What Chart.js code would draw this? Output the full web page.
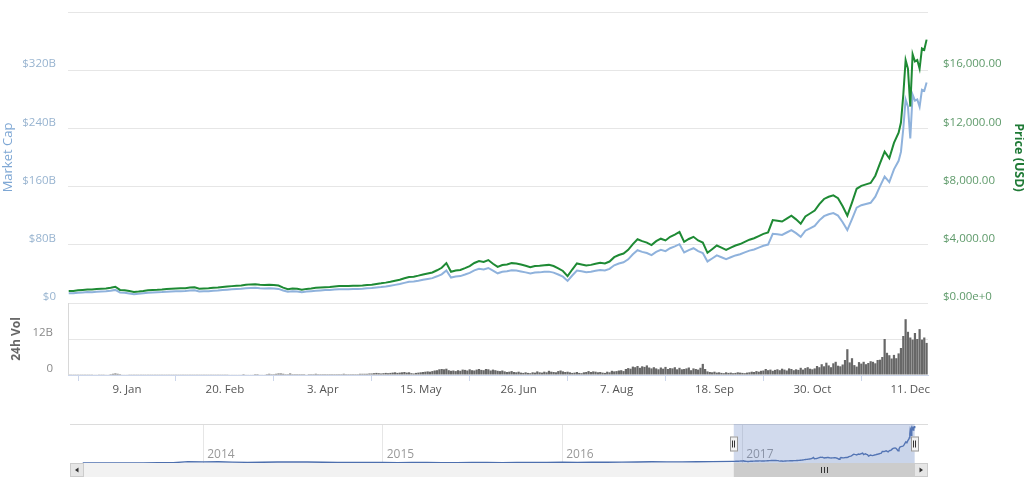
<!DOCTYPE html>
<html>
<head>
<meta charset="utf-8">
<script src="https://cdn.jsdelivr.net/npm/chart.js@4.4.0/dist/chart.umd.min.js"></script>
<style>
    html, body { margin: 0; background: #fff; }
    #wrap { position: relative; width: 1024px; height: 484px; overflow: hidden; }
    #main { position: absolute; left: 0; top: 0; }
    #nav { position: absolute; left: 0; top: 405px; }
</style>
</head>
<body>
<div id="wrap">
    <canvas id="main" width="1024" height="405"></canvas>
    <canvas id="nav" width="1024" height="79"></canvas>
</div>
<script>
// days are counted from 15 Dec 2016
// lines: every 2 days up to day 354, then daily to the end
const lineDays = [];
for (let d = 0; d <= 354; d += 2) lineDays.push(d);
for (let d = 356; d <= 368; d++) lineDays.push(d);

const priceUsd = [
    825, 830, 870, 900, 930, 920, 960, 980, 1000, 1050, 1120,
    900, 880, 820, 760, 790, 830, 880, 900, 910, 930,
    960, 980, 1000, 1010, 1020, 1060, 1080, 980, 1000, 1010,
    1040, 1060, 1100, 1130, 1160, 1190, 1210, 1250, 1280, 1290,
    1260, 1240, 1250, 1230, 1200, 1060, 950, 1000, 980, 920,
    970, 1000, 1040, 1070, 1090, 1100, 1140, 1170, 1160, 1170,
    1180, 1190, 1210, 1240, 1260, 1310, 1350, 1400, 1460, 1530,
    1600, 1700, 1790, 1810, 1880, 1960, 2030, 2100, 2250, 2420,
    2740, 2150, 2230, 2270, 2400, 2540, 2750, 2880, 2820, 2950,
    2700, 2480, 2610, 2650, 2740, 2720, 2640, 2560, 2460, 2540,
    2560, 2600, 2620, 2540, 2380, 2200, 1850, 2300, 2720, 2650,
    2580, 2620, 2700, 2760, 2720, 2850, 3150, 3300, 3400, 3650,
    4050, 4380, 4250, 4150, 3980, 4250, 4420, 4300, 4550, 4700,
    4880, 4200, 4400, 4550, 4300, 4150, 3450, 3700, 3950, 3800,
    3650, 3800, 3950, 4050, 4200, 4350, 4450, 4600, 4750, 4850,
    5700, 5650, 5600, 5800, 6000, 5750, 5450, 5950, 6150, 6350,
    6800, 7150, 7300, 7400, 7200, 6650, 6000, 6900, 7850, 8050,
    8150, 8250, 8750, 9600, 10400, 9950, 11000,
    11700, 12400, 14300, 16700, 16100, 13500, 17100, 16600, 16700, 16100, 17500, 17400, 18100
];

// billions of USD
const marketCapB = [
    13.3, 13.4, 14.0, 14.5, 15.0, 14.8, 15.5, 15.8, 16.1, 16.9, 18.0,
    14.5, 14.2, 13.2, 12.2, 12.7, 13.4, 14.2, 14.5, 14.7, 15.0,
    15.5, 15.8, 16.1, 16.3, 16.4, 17.1, 17.4, 15.8, 16.1, 16.3,
    16.8, 17.2, 17.8, 18.3, 18.8, 19.3, 19.6, 20.3, 20.7, 20.9,
    20.4, 20.1, 20.3, 19.9, 19.4, 17.2, 15.4, 16.2, 15.9, 14.9,
    15.7, 16.2, 16.8, 17.3, 17.7, 17.8, 18.5, 19.0, 18.8, 19.0,
    19.2, 19.4, 19.7, 20.2, 20.5, 21.4, 22.0, 22.8, 23.8, 24.9,
    26.1, 27.7, 29.2, 29.5, 30.6, 31.9, 33.1, 34.2, 36.7, 39.4,
    44.7, 35.0, 36.3, 37.0, 39.1, 41.4, 44.8, 46.9, 46.0, 48.1,
    44.4, 40.8, 42.9, 43.6, 45.1, 44.7, 43.4, 42.1, 40.5, 41.8,
    42.1, 42.8, 43.1, 41.8, 39.2, 36.2, 30.4, 37.8, 44.7, 43.6,
    42.4, 43.1, 44.4, 45.4, 44.7, 46.9, 51.8, 54.3, 55.9, 60.0,
    67.0, 72.5, 70.3, 68.7, 65.9, 70.3, 73.2, 71.2, 75.3, 77.8,
    80.8, 69.5, 72.8, 75.3, 71.2, 68.7, 57.1, 61.2, 65.4, 62.9,
    60.4, 62.9, 65.4, 67.0, 69.5, 72.0, 73.6, 76.1, 78.6, 80.3,
    95.2, 94.4, 93.5, 96.9, 100.2, 96.0, 91.0, 99.4, 102.7, 106.0,
    113.6, 119.4, 121.9, 123.6, 120.2, 111.1, 100.2, 115.2, 131.1, 134.4,
    136.1, 137.8, 146.1, 160.3, 173.7, 166.2, 183.7,
    195.4, 207.7, 239.5, 279.7, 269.7, 226.1, 286.4, 278.1, 279.7, 269.7, 293.1, 291.5, 303.2
];

// 24h volume, billions, one bar per day from day 0
const volumeB = [
    0.1, 0.1, 0.1, 0.1, 0.1, 0.1, 0.1, 0.1, 0.1, 0.1, 0.1, 0.2, 0.2, 0.1,
    0.1, 0.1, 0.2, 0.2, 0.3, 0.4, 0.5, 0.4, 0.3, 0.2, 0.2, 0.2, 0.1, 0.1,
    0.1, 0.1, 0.1, 0.1, 0.1, 0.1, 0.1, 0.1, 0.1, 0.1, 0.1, 0.1, 0.1, 0.1,
    0.1, 0.1, 0.1, 0.1, 0.1, 0.1, 0.1, 0.1, 0.1, 0.1, 0.1, 0.1, 0.1, 0.1,
    0.1, 0.1, 0.1, 0.1, 0.1, 0.1, 0.1, 0.1, 0.1, 0.1, 0.1, 0.1, 0.1, 0.2,
    0.2, 0.2, 0.2, 0.2, 0.2, 0.3, 0.2, 0.2, 0.2, 0.2, 0.3, 0.3, 0.2, 0.2,
    0.2, 0.3, 0.4, 0.3, 0.3, 0.4, 0.5, 0.5, 0.4, 0.3, 0.3, 0.5, 0.3, 0.3,
    0.3, 0.3, 0.3, 0.3, 0.2, 0.3, 0.3, 0.3, 0.4, 0.3, 0.3, 0.3, 0.3, 0.3,
    0.3, 0.3, 0.3, 0.3, 0.3, 0.3, 0.4, 0.3, 0.3, 0.3, 0.3, 0.3, 0.3, 0.4,
    0.4, 0.4, 0.4, 0.5, 0.5, 0.6, 0.7, 0.6, 0.5, 0.6, 0.7, 0.6, 0.7, 0.8,
    0.9, 0.7, 0.8, 0.9, 1.0, 0.8, 0.9, 0.6, 0.5, 0.7, 0.8, 0.9, 1.0, 1.1,
    1.2, 1.1, 1.3, 1.5, 1.6, 1.9, 2.0, 1.9, 2.1, 1.6, 1.4, 1.5, 1.3, 1.6,
    1.4, 1.8, 1.7, 1.5, 1.9, 1.6, 1.5, 1.8, 2.0, 1.7, 1.6, 2.0, 1.9, 1.5,
    1.8, 1.6, 1.4, 1.3, 1.5, 1.2, 1.0, 1.1, 1.3, 1.0, 0.9, 1.1, 0.8, 0.7,
    0.9, 0.7, 0.6, 0.9, 0.8, 1.2, 0.9, 0.8, 1.1, 0.9, 1.4, 1.1, 1.0, 0.9,
    1.3, 1.5, 1.2, 1.0, 1.1, 0.9, 0.7, 0.8, 1.0, 0.7, 0.6, 0.9, 1.0, 1.3,
    1.0, 1.2, 1.1, 0.9, 1.0, 0.8, 0.7, 1.1, 0.9, 1.4, 1.2, 1.3, 1.5, 1.6,
    1.3, 2.0, 2.3, 2.1, 2.8, 2.6, 3.0, 2.4, 2.9, 2.7, 3.2, 2.5, 2.2, 2.6,
    2.2, 1.9, 2.5, 2.1, 2.7, 2.0, 2.3, 2.2, 2.6, 1.9, 2.4, 1.9, 2.0, 2.2,
    2.5, 1.6, 2.2, 2.0, 1.8, 2.4, 3.7, 2.0, 1.2, 1.0, 0.9, 1.1, 0.8, 0.9,
    0.7, 0.6, 0.9, 0.7, 0.8, 0.6, 0.7, 0.9, 0.8, 0.7, 0.6, 0.8, 0.9, 1.1,
    1.0, 1.3, 1.1, 1.4, 1.5, 2.0, 1.6, 1.8, 1.4, 1.7, 1.9, 1.6, 2.1, 1.8,
    1.5, 2.2, 2.0, 1.6, 1.9, 1.7, 2.4, 1.8, 2.3, 2.6, 2.1, 1.9,
    2.2, 3.0, 2.6, 3.6, 2.9, 4.1, 3.2, 2.6, 3.9, 4.4, 3.1, 2.9, 3.5, 5.0, 8.6, 4.2, 5.6, 3.3, 2.8, 4.3,
    3.8, 4.4, 3.6, 4.0, 4.6, 4.4, 3.9, 5.0, 5.1, 6.0, 12.0, 7.4, 6.6, 5.5, 6.7, 5.6, 7.2, 9.0,
    13.0, 18.6, 14.4, 12.5, 11.8, 14.0, 12.0, 15.3, 11.8, 12.5, 10.7
];

const xTickDays = [25, 67, 109, 151, 193, 235, 277, 319, 361];
const xTickLabels = ['9. Jan', '20. Feb', '3. Apr', '15. May', '26. Jun', '7. Aug', '18. Sep', '30. Oct', '11. Dec'];

const mcapTicks = [0, 80, 160, 240, 320, 400];
const mcapTickLabels = ['$0', '$80B', '$160B', '$240B', '$320B', ''];
const priceTicks = [0, 4000, 8000, 12000, 16000, 20000];
const priceTickLabels = ['$0.00e+0', '$4,000.00', '$8,000.00', '$12,000.00', '$16,000.00', ''];
const volTicks = [0, 12];
const volTickLabels = ['0', '12B'];

// navigator: monthly market cap (billions) from May 2013 to Nov 2016
const navHistoryB = [
    1.3, 1.2, 1.0, 1.1, 1.4, 1.6, 2.4, 11.5,
    9.5, 10.0, 7.0, 5.5, 5.6, 8.0, 8.2, 7.7, 6.6, 5.3, 4.5, 5.1,
    4.3, 3.2, 3.5, 3.5, 3.4, 3.2, 3.7, 4.3, 3.4, 3.5, 4.6, 5.3,
    6.5, 5.4, 6.7, 6.6, 7.0, 8.4, 10.6, 9.4, 9.0, 9.7, 11.6
];
const navYears = [2014, 2015, 2016, 2017];

function dayOf(y, m, d) {
    return (Date.UTC(y, m - 1, d) - Date.UTC(2016, 11, 15)) / 864e5;
}

const fam = '"Open Sans", "DejaVu Sans", sans-serif';
const font = size => ({ family: fam, size: size });

// the main pane (0..max) sits above a volume pane 72px high, plot is 363px high
const mainShare = 291 / 363;
const mcapMax = 400, priceMax = 20000;

// fixed axis widths, and no extra room reserved above/below for the labels
function fixWidth(w) {
    return s => {
        s.width = w;
        s.paddingTop = 0;
        s.paddingBottom = 0;
    };
}

function drawText(ctx, text, x, y, angle, f, color, align) {
    ctx.save();
    ctx.translate(x, y);
    ctx.rotate(angle);
    ctx.font = f;
    ctx.fillStyle = color;
    ctx.textAlign = align || 'center';
    ctx.textBaseline = 'middle';
    ctx.fillText(text, 0, 0);
    ctx.restore();
}

const paneDecor = {
    id: 'paneDecor',
    afterDraw(chart) {
        const { ctx, chartArea } = chart;
        const vol = chart.scales.yVol;
        const paneTop = chart.scales.yMcap.getPixelForValue(0);
        ctx.save();
        ctx.strokeStyle = '#d8d8d8';
        ctx.lineWidth = 1;
        ctx.beginPath();
        ctx.moveTo(Math.round(chartArea.left) + 0.5, paneTop);
        ctx.lineTo(Math.round(chartArea.left) + 0.5, chartArea.bottom);
        ctx.stroke();
        ctx.restore();
        // volume axis labels
        volTicks.forEach((v, i) => {
            drawText(ctx, volTickLabels[i], chartArea.left - 15, vol.getPixelForValue(v) - 6, 0,
                '11.5px ' + fam, '#8a8a8a', 'right');
        });
        drawText(ctx, 'Market Cap', 8, (chartArea.top + paneTop) / 2, -Math.PI / 2, '13px ' + fam, '#7ea7d4');
        drawText(ctx, '24h Vol', 17, (paneTop + chartArea.bottom) / 2, -Math.PI / 2, 'bold 12px ' + fam, '#666666');
        drawText(ctx, 'Price (USD)', 1019, (chartArea.top + paneTop) / 2, Math.PI / 2, 'bold 12.5px ' + fam, '#1f7a36');
    }
};

new Chart(document.getElementById('main'), {
    type: 'line',
    data: {
        datasets: [
            {
                label: 'Price (USD)',
                data: lineDays.map((d, i) => ({ x: d, y: priceUsd[i] })),
                yAxisID: 'yPrice',
                borderColor: '#1e8a34',
                borderWidth: 2,
                pointRadius: 0,
                tension: 0
            },
            {
                label: 'Market Cap',
                data: lineDays.map((d, i) => ({ x: d, y: marketCapB[i] })),
                yAxisID: 'yMcap',
                borderColor: '#8fb2dc',
                borderWidth: 2,
                pointRadius: 0,
                tension: 0
            },
            {
                type: 'bar',
                label: '24h Vol',
                data: volumeB.map((v, d) => ({ x: d, y: v })),
                yAxisID: 'yVol',
                backgroundColor: '#676767',
                borderWidth: 0,
                barPercentage: 1,
                categoryPercentage: 0.95
            }
        ]
    },
    options: {
        responsive: false,
        animation: false,
        events: [],
        layout: { padding: { top: 12, left: 0, right: 0, bottom: 0 } },
        plugins: { legend: { display: false }, tooltip: { enabled: false } },
        scales: {
            x: {
                type: 'linear',
                min: -0.3,
                max: 368.6,
                offset: false,
                afterBuildTicks: s => { s.ticks = xTickDays.map(v => ({ value: v })); },
                afterFit: s => { s.height = 30; },
                grid: { drawOnChartArea: false, drawTicks: true, tickLength: 6, color: '#ccd6eb' },
                border: { display: true, color: '#ccd6eb' },
                ticks: {
                    autoSkip: false, maxRotation: 0, padding: 2, color: '#555555', font: font(11.5),
                    callback: (v, i) => xTickLabels[i]
                }
            },
            yMcap: {
                position: 'left',
                weight: 1,
                min: -mcapMax * (1 - mainShare) / mainShare,
                max: mcapMax,
                afterBuildTicks: s => { s.ticks = mcapTicks.map(v => ({ value: v })); },
                afterFit: fixWidth(68),
                grid: { color: '#e6e6e6', drawTicks: false },
                border: { display: false },
                ticks: {
                    autoSkip: false, padding: 12, labelOffset: -6, color: '#98b4d0', font: font(11.5),
                    callback: (v, i) => mcapTickLabels[i]
                }
            },
            yVol: {
                position: 'left',
                weight: 0,
                min: 0,
                max: 12 * 363 / 36,
                afterBuildTicks: s => { s.ticks = volTicks.map(v => ({ value: v })); },
                afterFit: fixWidth(0),
                grid: { color: '#e6e6e6', drawTicks: false },
                border: { display: false },
                ticks: { display: false }
            },
            yPrice: {
                position: 'right',
                min: -priceMax * (1 - mainShare) / mainShare,
                max: priceMax,
                afterBuildTicks: s => { s.ticks = priceTicks.map(v => ({ value: v })); },
                afterFit: fixWidth(96),
                grid: { drawOnChartArea: false, drawTicks: false },
                border: { display: false },
                ticks: {
                    autoSkip: false, padding: 15, labelOffset: -6, color: '#5e9a6a', font: font(11.5),
                    callback: (v, i) => priceTickLabels[i]
                }
            }
        }
    },
    plugins: [paneDecor]
});

// navigator with selected range and scrollbar
const navDecor = {
    id: 'navDecor',
    afterDatasetsDraw(chart) {
        const { ctx, chartArea } = chart;
        const xs = chart.scales.x;
        const left = chartArea.left, right = chartArea.right, top = chartArea.top, bottom = chartArea.bottom;
        const x0 = xs.getPixelForValue(lineDays[0]);
        const x1 = xs.getPixelForValue(lineDays[lineDays.length - 1]);
        ctx.save();
        // top outline
        ctx.strokeStyle = '#dcdcdc';
        ctx.lineWidth = 1;
        ctx.beginPath();
        ctx.moveTo(left, Math.round(top) + 0.5);
        ctx.lineTo(right, Math.round(top) + 0.5);
        ctx.stroke();
        // year labels
        ctx.font = '12px ' + fam;
        ctx.fillStyle = '#999999';
        ctx.textBaseline = 'middle';
        ctx.textAlign = 'left';
        navYears.forEach(y => {
            ctx.fillText(String(y), xs.getPixelForValue(dayOf(y, 1, 1)) + 4, bottom - 8);
        });
        // selected range mask
        ctx.fillStyle = 'rgba(102,133,194,0.3)';
        ctx.fillRect(x0, top, x1 - x0, bottom - top);
        // scrollbar
        const sh = 14;
        ctx.fillStyle = '#f2f2f2';
        ctx.fillRect(left, bottom, right - left, sh);
        ctx.fillStyle = '#cccccc';
        ctx.fillRect(x0, bottom, x1 - x0, sh);
        ctx.strokeStyle = '#333333';
        const cx = Math.round((x0 + x1) / 2);
        [-3, 0, 3].forEach(o => {
            ctx.beginPath();
            ctx.moveTo(cx + o + 0.5, bottom + 4);
            ctx.lineTo(cx + o + 0.5, bottom + 10);
            ctx.stroke();
        });
        [[left, -1], [right - sh, 1]].forEach(([bx, dir]) => {
            ctx.fillStyle = '#e6e6e6';
            ctx.fillRect(bx, bottom, sh, sh);
            ctx.strokeStyle = '#cccccc';
            ctx.strokeRect(bx + 0.5, bottom + 0.5, sh - 1, sh - 1);
            ctx.fillStyle = '#333333';
            const mx = bx + sh / 2, my = bottom + sh / 2;
            ctx.beginPath();
            ctx.moveTo(mx + dir * 2, my);
            ctx.lineTo(mx - dir * 1.5, my - 2.5);
            ctx.lineTo(mx - dir * 1.5, my + 2.5);
            ctx.closePath();
            ctx.fill();
        });
        // handles
        const my = (top + bottom) / 2;
        [x0, x1].forEach(hx => {
            const rx = Math.round(hx) - 4;
            ctx.fillStyle = '#f2f2f2';
            ctx.fillRect(rx, my - 7, 8, 15);
            ctx.strokeStyle = '#999999';
            ctx.strokeRect(rx + 0.5, my - 7 + 0.5, 7, 14);
            ctx.strokeStyle = '#333333';
            [2.5, 4.5].forEach(o => {
                ctx.beginPath();
                ctx.moveTo(rx + o, my - 3);
                ctx.lineTo(rx + o, my + 4);
                ctx.stroke();
            });
        });
        ctx.restore();
    }
};

const navPoints = navHistoryB.map((v, i) => ({ x: dayOf(2013, 5 + i, 1), y: v }))
    .concat(lineDays.map((d, i) => ({ x: d, y: marketCapB[i] })));

new Chart(document.getElementById('nav'), {
    type: 'line',
    data: {
        datasets: [{
            data: navPoints,
            borderColor: '#4d6fae',
            borderWidth: 1.4,
            pointRadius: 0,
            tension: 0,
            fill: 'origin',
            backgroundColor: 'rgba(77,111,174,0.05)'
        }]
    },
    options: {
        responsive: false,
        animation: false,
        events: [],
        layout: { padding: { left: 70, right: 96, top: 19, bottom: 21 } },
        plugins: { legend: { display: false }, tooltip: { enabled: false } },
        scales: {
            x: {
                type: 'linear',
                min: -1350,
                max: 395,
                afterBuildTicks: s => { s.ticks = navYears.map(y => ({ value: dayOf(y, 1, 1) })); },
                grid: { color: '#e6e6e6', drawTicks: false },
                border: { display: false },
                ticks: { display: false }
            },
            y: { display: false, min: 0, max: 320 }
        }
    },
    plugins: [navDecor]
});
</script>
</body>
</html>
